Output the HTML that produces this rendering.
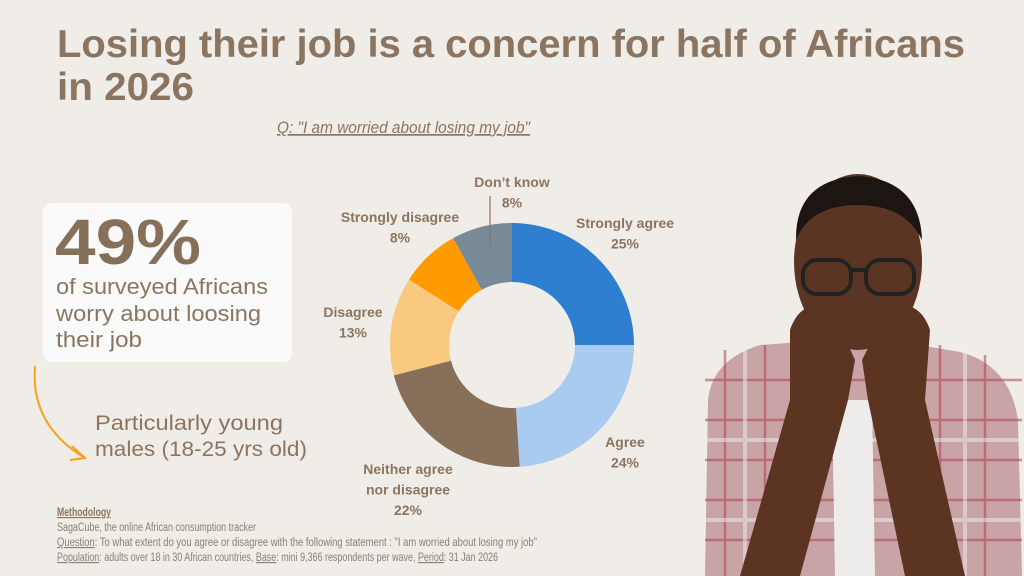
<!DOCTYPE html>
<html><head><meta charset="utf-8"><style>
html,body{margin:0;padding:0;background:#f0ece7;}
svg{display:block;font-family:"Liberation Sans",sans-serif;}
</style></head><body>
<svg width="1024" height="576" viewBox="0 0 1024 576">
<rect width="1024" height="576" fill="#f0ece7"/>
<g fill="#8b7560" font-weight="bold" font-size="39">
<text x="57" y="57" textLength="908" lengthAdjust="spacingAndGlyphs">Losing their job is a concern for half of Africans</text>
<text x="57" y="100" textLength="137" lengthAdjust="spacingAndGlyphs">in 2026</text>
</g>
<text x="277" y="133" font-size="17" font-style="italic" fill="#8b7560" text-decoration="underline" textLength="253" lengthAdjust="spacingAndGlyphs">Q: "I am worried about losing my job"</text>

<rect x="43" y="203" width="249" height="159" rx="9" fill="#fafafa"/>
<text x="55" y="264" font-size="64" font-weight="bold" fill="#87705a" textLength="146" lengthAdjust="spacingAndGlyphs">49%</text>
<g font-size="22" fill="#8b7560">
<text x="56" y="294" textLength="212" lengthAdjust="spacingAndGlyphs">of surveyed Africans</text>
<text x="56" y="321" textLength="205" lengthAdjust="spacingAndGlyphs">worry about loosing</text>
<text x="56" y="347" textLength="86" lengthAdjust="spacingAndGlyphs">their job</text>
</g>
<path d="M35 366 Q30 425 85 458" fill="none" stroke="#f7a21b" stroke-width="2"/>
<path d="M70 460 L85 458 L72 446" fill="none" stroke="#f7a21b" stroke-width="2"/>
<g font-size="21" fill="#8b7560">
<text x="95" y="430" textLength="188" lengthAdjust="spacingAndGlyphs">Particularly young</text>
<text x="95" y="456" textLength="212" lengthAdjust="spacingAndGlyphs">males (18-25 yrs old)</text>
</g>

<g id="donut"></g>
<g id="labels" font-size="14" font-weight="bold" fill="#8b7560" text-anchor="middle"></g>
<line x1="490" y1="196" x2="490" y2="246" stroke="#8b7560" stroke-width="1.2"/>

<g font-size="11.5" fill="#8a8078">
<text x="57" y="516" font-weight="bold" fill="#8b7560" text-decoration="underline" textLength="54" lengthAdjust="spacingAndGlyphs">Methodology</text>
<text x="57" y="531" textLength="199" lengthAdjust="spacingAndGlyphs">SagaCube, the online African consumption tracker</text>
<text x="57" y="546" textLength="480" lengthAdjust="spacingAndGlyphs"><tspan text-decoration="underline">Question</tspan>: To what extent do you agree or disagree with the following statement : "I am worried about losing my job"</text>
<text x="57" y="561" textLength="441" lengthAdjust="spacingAndGlyphs"><tspan text-decoration="underline">Population</tspan>: adults over 18 in 30 African countries, <tspan text-decoration="underline">Base</tspan>: mini 9,366 respondents per wave, <tspan text-decoration="underline">Period</tspan>: 31 Jan 2026</text>
</g>

<g>
<path d="M705 576 L708 400 Q712 360 760 345 L830 340 L890 340 L960 352 Q1010 365 1018 420 L1022 576 Z" fill="#c9a4a6"/>
<g stroke="#b0414f" stroke-width="2.5" opacity="0.55">
<line x1="705" y1="380" x2="1022" y2="380"/><line x1="705" y1="420" x2="1022" y2="420"/><line x1="705" y1="460" x2="1022" y2="460"/><line x1="705" y1="500" x2="1022" y2="500"/><line x1="705" y1="540" x2="1022" y2="540"/>
<line x1="725" y1="350" x2="725" y2="576"/><line x1="765" y1="345" x2="765" y2="576"/><line x1="940" y1="345" x2="940" y2="576"/><line x1="985" y1="355" x2="985" y2="576"/>
</g>
<g stroke="#f3efee" stroke-width="4" opacity="0.5">
<line x1="705" y1="440" x2="1022" y2="440"/><line x1="705" y1="520" x2="1022" y2="520"/><line x1="745" y1="350" x2="745" y2="576"/><line x1="965" y1="350" x2="965" y2="576"/>
</g>
<path d="M832 400 L872 400 L875 576 L835 576 Z" fill="#eeeceb"/>
<ellipse cx="858" cy="262" rx="64" ry="88" fill="#5a3524"/>
<path d="M796 240 Q795 180 858 176 Q920 180 922 240 Q905 205 858 205 Q810 205 796 240 Z" fill="#1c1512"/>
<g fill="none" stroke="#222" stroke-width="4">
<rect x="803" y="260" width="48" height="34" rx="14"/><rect x="866" y="260" width="48" height="34" rx="14"/><line x1="851" y1="270" x2="866" y2="270"/>
</g>
<path d="M790 330 Q800 300 830 305 L855 360 L848 400 L800 576 L740 576 L790 400 Z" fill="#5b3422"/>
<path d="M930 330 Q920 300 890 305 L862 360 L868 400 L905 576 L965 576 L925 400 Z" fill="#5b3422"/>
</g>

<script>
const categories=["Strongly agree","Agree","Neither agree nor disagree","Disagree","Strongly disagree","Don’t know"];
const values=[25,24,22,13,8,8];
const valueLabels=["25%","24%","22%","13%","8%","8%"];
const colors=["#2e7fcf","#a9cbf0","#87705a","#f8c97f","#fd9b00","#788a98"];
const cx=512,cy=345,R=122,r=63;
const NS="http://www.w3.org/2000/svg";
const total=values.reduce((a,b)=>a+b,0);
function ang(v){return v/total*2*Math.PI;}
function pt(a,rad){return [cx+rad*Math.sin(a),cy-rad*Math.cos(a)];}
const g=document.getElementById('donut');
let a0=0;
values.forEach((v,i)=>{
  const a1=a0+ang(v);
  const [x0,y0]=pt(a0,R),[x1,y1]=pt(a1,R),[x2,y2]=pt(a1,r),[x3,y3]=pt(a0,r);
  const lg=(a1-a0)>Math.PI?1:0;
  const p=document.createElementNS(NS,'path');
  p.setAttribute('d',`M${x0} ${y0} A${R} ${R} 0 ${lg} 1 ${x1} ${y1} L${x2} ${y2} A${r} ${r} 0 ${lg} 0 ${x3} ${y3} Z`);
  p.setAttribute('fill',colors[i]);
  
  
  g.appendChild(p);
  a0=a1;
});
const labelLines=[["Strongly agree"],["Agree"],["Neither agree","nor disagree"],["Disagree"],["Strongly disagree"],["Don’t know"]];
const labelPos=[[625,228],[625,447],[408,474],[353,317],[400,222],[512,187]];
const lg2=document.getElementById('labels');
labelLines.forEach((lines,i)=>{
  const t=document.createElementNS(NS,'text');
  
  
  const all=lines.concat([valueLabels[i]]);
  all.forEach((s,j)=>{
    const ts=document.createElementNS(NS,'tspan');
    ts.setAttribute('x',labelPos[i][0]);
    ts.setAttribute('y',labelPos[i][1]+j*20.5);
    ts.textContent=s;
    t.appendChild(ts);
  });
  lg2.appendChild(t);
});
</script>
</svg>
</body></html>
